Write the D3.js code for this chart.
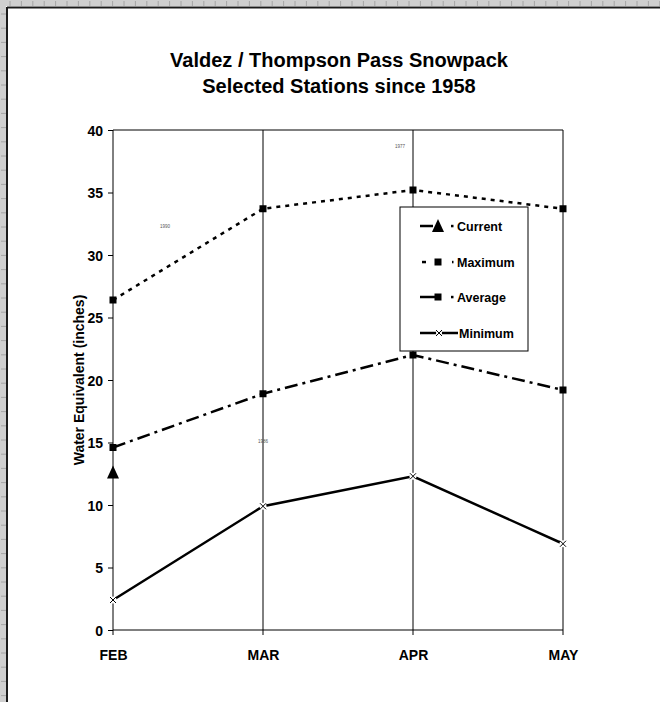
<!DOCTYPE html>
<html><head><meta charset="utf-8">
<script src="https://cdn.jsdelivr.net/npm/d3@7"></script>
<style>
body{margin:0;background:#fff;}
svg{display:block;font-family:"Liberation Sans",Arial,sans-serif;}
</style></head>
<body>
<svg id="c" width="660" height="702"></svg>
<script>
const months = ["FEB","MAR","APR","MAY"];
const maximum = [26.4, 33.7, 35.2, 33.7];
const average = [14.6, 18.9, 22.0, 19.2];
const minimum = [2.4, 9.9, 12.3, 6.9];
const current = [12.6];
const yTicks = [0,5,10,15,20,25,30,35,40];
const yearNotes = [{m:"FEB", v:32.2, t:"1990", dx:52}, {m:"APR", v:38.6, t:"1977", dx:-13}, {m:"MAR", v:15.0, t:"1986", dx:0}];
const legendItems = ["Current","Maximum","Average","Minimum"];

const svg = d3.select("#c");
const W = 660, H = 702;

// page ruler / frame
svg.append("rect").attr("x",0).attr("y",0).attr("width",W).attr("height",6).attr("fill","#cfcfcf");
svg.append("rect").attr("x",0).attr("y",0).attr("width",6).attr("height",H).attr("fill","#cfcfcf");
for(let xx=10;xx<W;xx+=11.4) svg.append("line").attr("x1",xx).attr("x2",xx).attr("y1",1).attr("y2",6).attr("stroke","#9a9a9a").attr("stroke-width",0.8);
for(let yy=14;yy<H;yy+=14.2) svg.append("line").attr("y1",yy).attr("y2",yy).attr("x1",1).attr("x2",6).attr("stroke","#9a9a9a").attr("stroke-width",0.8);
svg.append("line").attr("x1",7).attr("x2",W).attr("y1",7.5).attr("y2",7.5).attr("stroke","#1a1a1a").attr("stroke-width",2);
svg.append("line").attr("x1",7).attr("x2",7).attr("y1",7).attr("y2",H).attr("stroke","#1a1a1a").attr("stroke-width",2);

const x = d3.scalePoint().domain(months).range([113,563]);
const y = d3.scaleLinear().domain([0,40]).range([630,130]);

// title
svg.append("text").attr("x",339).attr("y",67).attr("text-anchor","middle").attr("font-size",20).attr("font-weight","bold").text("Valdez / Thompson Pass Snowpack");
svg.append("text").attr("x",339).attr("y",93).attr("text-anchor","middle").attr("font-size",20).attr("font-weight","bold").text("Selected Stations since 1958");

// gridlines (vertical) and plot box
months.forEach(m=>{
  svg.append("line").attr("x1",x(m)).attr("x2",x(m)).attr("y1",y(40)).attr("y2",y(0)+5)
    .attr("stroke","#000").attr("stroke-width",1);
});
svg.append("line").attr("x1",x("FEB")).attr("x2",x("MAY")).attr("y1",y(40)).attr("y2",y(40)).attr("stroke","#000").attr("stroke-width",1);

// axes
const yAxis = d3.axisLeft(y).tickValues(yTicks).tickSize(5).tickPadding(5);
const gy = svg.append("g").attr("transform",`translate(${x("FEB")},0)`).call(yAxis);
gy.select(".domain").remove();
gy.selectAll("line").attr("stroke","#000");
gy.selectAll("text").attr("font-size",14).attr("font-weight","bold").attr("font-family","Liberation Sans, Arial").attr("fill","#000").attr("dy","0.36em");
const xAxis = d3.axisBottom(x).tickSize(0).tickPadding(20);
const gx = svg.append("g").attr("transform",`translate(0,${y(0)})`).call(xAxis);
gx.select(".domain").attr("d",`M${x("FEB")},0H${x("MAY")}`).attr("stroke","#000");
gx.selectAll("text").attr("font-size",14).attr("font-weight","bold").attr("font-family","Liberation Sans, Arial").attr("fill","#000");

// y label
svg.append("text").attr("transform","translate(84,380) rotate(-90)").attr("text-anchor","middle")
  .attr("font-size",14).attr("font-weight","bold").text("Water Equivalent (inches)");

// year notes
yearNotes.forEach(n=>{
  svg.append("text").attr("x",x(n.m)+n.dx).attr("y",y(n.v)).attr("text-anchor","middle")
    .attr("font-size",4.5).attr("fill","#555").text(n.t);
});

const line = d3.line().x((d,i)=>x(months[i])).y(d=>y(d));
svg.append("path").datum(maximum).attr("d",line).attr("fill","none").attr("stroke","#000").attr("stroke-width",2.5).attr("stroke-dasharray","4,5");
svg.append("path").datum(average).attr("d",line).attr("fill","none").attr("stroke","#000").attr("stroke-width",2.5).attr("stroke-dasharray","13,5,3,5");
svg.append("path").datum(minimum).attr("d",line).attr("fill","none").attr("stroke","#000").attr("stroke-width",2.5);

function square(g,cx,cy){g.append("rect").attr("x",cx-3.5).attr("y",cy-3.5).attr("width",7).attr("height",7).attr("fill","#000");}
function cross(g,cx,cy){g.append("path").attr("d",`M${cx-3},${cy-3}L${cx+3},${cy+3}M${cx-3},${cy+3}L${cx+3},${cy-3}`).attr("stroke","#000").attr("stroke-width",1);}
function tri(g,cx,cy){g.append("path").attr("d",`M${cx},${cy-7}L${cx+6},${cy+6}L${cx-6},${cy+6}Z`).attr("fill","#000");}

maximum.forEach((v,i)=>square(svg,x(months[i]),y(v)));
average.forEach((v,i)=>square(svg,x(months[i]),y(v)));
minimum.forEach((v,i)=>{svg.append("circle").attr("cx",x(months[i])).attr("cy",y(v)).attr("r",3.5).attr("fill","#fff");cross(svg,x(months[i]),y(v));});
current.forEach((v,i)=>tri(svg,x(months[i]),y(v)));

// legend
const lg = svg.append("g");
lg.append("rect").attr("x",400).attr("y",207).attr("width",128).attr("height",144).attr("fill","#fff").attr("stroke","#000").attr("stroke-width",1);
const ly = [226,262,297,333];
legendItems.forEach((t,i)=>{
  const yy = ly[i];
  if(i===0){
    lg.append("line").attr("x1",420).attr("x2",433).attr("y1",yy).attr("y2",yy).attr("stroke","#000").attr("stroke-width",2.5);
    tri(lg,438,yy); lg.append("rect").attr("x",451).attr("y",yy-1.2).attr("width",2.5).attr("height",2.5).attr("fill","#000");
  } else if(i===1){
    lg.append("rect").attr("x",422).attr("y",yy-1.2).attr("width",4).attr("height",2.5).attr("fill","#000");
    square(lg,438,yy);
    lg.append("rect").attr("x",452).attr("y",yy-1.2).attr("width",1.5).attr("height",2.5).attr("fill","#000");
  } else if(i===2){
    lg.append("line").attr("x1",420).attr("x2",436).attr("y1",yy).attr("y2",yy).attr("stroke","#000").attr("stroke-width",2.5);
    square(lg,438,yy); lg.append("rect").attr("x",451).attr("y",yy-1.2).attr("width",2.5).attr("height",2.5).attr("fill","#000");
  } else {
    lg.append("line").attr("x1",420).attr("x2",458).attr("y1",yy).attr("y2",yy).attr("stroke","#000").attr("stroke-width",2.5);
    lg.append("circle").attr("cx",439).attr("cy",yy).attr("r",3).attr("fill","#fff");
    cross(lg,439,yy);
  }
  lg.append("text").attr("x",i===3?459:457).attr("y",yy+4.5).attr("font-size",12.5).attr("font-weight","bold").text(t);
});
</script>
</body></html>
